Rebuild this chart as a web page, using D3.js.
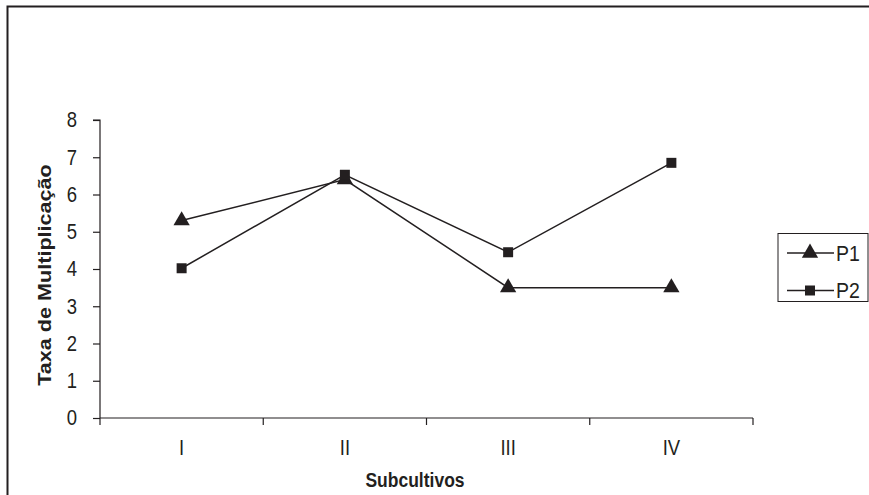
<!DOCTYPE html>
<html><head><meta charset="utf-8">
<script src="https://cdn.jsdelivr.net/npm/d3@7"></script>
<style>
html,body{margin:0;padding:0;background:#fff;}
svg{display:block;font-family:"Liberation Sans",Arial,sans-serif;}
</style></head>
<body>
<svg id="c" width="869" height="495"></svg>
<script>
const categories = ["I", "II", "III", "IV"];
const seriesNames = ["P1", "P2"];
const p1 = [5.3, 6.4, 3.5, 3.5];
const p2 = [4.02, 6.53, 4.45, 6.85];
const yTicks = [0, 1, 2, 3, 4, 5, 6, 7, 8];

const svg = d3.select("#c");
const col = "#231f20";

// outer border
svg.append("rect").attr("x", 7.5).attr("y", 6.5).attr("width", 900).attr("height", 600)
  .attr("fill", "none").attr("stroke", col).attr("stroke-width", 2);

const mLeft = 100, mRight = 753, mTop = 120, mBottom = 418;
const x = d3.scaleBand().domain(categories).range([mLeft, mRight]);
const y = d3.scaleLinear().domain([0, 8]).range([mBottom, mTop]);

function label(g, tx, ty, txt, opts = {}) {
  const st = opts.stretch || 1.15;
  return g.append("text")
    .attr("transform", `translate(${tx},${ty}) scale(1,${st})${opts.rotate ? " rotate(-90)" : ""}`)
    .attr("text-anchor", opts.anchor || "middle").attr("dy", opts.dy || "0.35em")
    .attr("fill", col).style("font-size", opts.fs || "18.5px").style("font-weight", opts.bold ? "bold" : "normal")
    .text(txt);
}

// y axis
const ya = svg.append("g").attr("transform", `translate(${mLeft},0)`)
  .call(d3.axisLeft(y).tickValues(yTicks).tickSize(7).tickFormat(""));
ya.select(".domain").attr("stroke", col).attr("stroke-width", 1.2).attr("d", `M-7,${mTop}H0V${mBottom}`);
ya.selectAll(".tick line").attr("stroke", col).attr("stroke-width", 1.2);
yTicks.forEach(t => label(svg, 72, y(t), d3.format("d")(t)));

// x axis (ticks at band edges)
const xa = svg.append("g").attr("transform", `translate(0,${mBottom})`);
xa.append("line").attr("x1", mLeft).attr("x2", mRight).attr("stroke", col).attr("stroke-width", 1.2);
const edges = categories.map(c => x(c)).concat([mRight]);
xa.selectAll("line.tk").data(edges).join("line").attr("class", "tk")
  .attr("x1", d => d).attr("x2", d => d).attr("y1", 0).attr("y2", 7)
  .attr("stroke", col).attr("stroke-width", 1.2);
categories.forEach(c => label(svg, x(c) + x.bandwidth() / 2, 448, c));

// axis titles
label(svg, 415, 480, "Subcultivos", { bold: true, fs: "17.5px", stretch: 1.2 });
label(svg, 45, (mTop + mBottom) / 2 + 6, "Taxa de Multiplicação", { bold: true, rotate: true, fs: "18px", stretch: 1.2 });

const cx = c => x(c) + x.bandwidth() / 2;
const line = d3.line().x((d, i) => cx(categories[i])).y(d => y(d));
const tri = d3.symbol().type(d3.symbolTriangle).size(115);
const sq = d3.symbol().type(d3.symbolSquare).size(100);

function drawSeries(vals, sym) {
  svg.append("path").datum(vals).attr("d", line).attr("fill", "none").attr("stroke", col).attr("stroke-width", 1.5);
  svg.selectAll(null).data(vals).join("path")
    .attr("transform", (d, i) => `translate(${cx(categories[i])},${y(d)})`)
    .attr("d", sym).attr("fill", col);
}
drawSeries(p1, tri);
drawSeries(p2, sq);

// legend
const lg = svg.append("g");
lg.append("rect").attr("x", 778).attr("y", 233.5).attr("width", 90).attr("height", 68)
  .attr("fill", "#fff").attr("stroke", col).attr("stroke-width", 1);
const syms = [tri, sq];
seriesNames.forEach((n, i) => {
  const yy = 253 + i * 37.5;
  lg.append("line").attr("x1", 787).attr("x2", 834).attr("y1", yy).attr("y2", yy).attr("stroke", col).attr("stroke-width", 1.5);
  lg.append("path").attr("transform", `translate(810,${yy})`).attr("d", syms[i]).attr("fill", col);
  label(lg, 836, yy, n, { anchor: "start", fs: "19.5px" });
});
</script>
</body></html>
